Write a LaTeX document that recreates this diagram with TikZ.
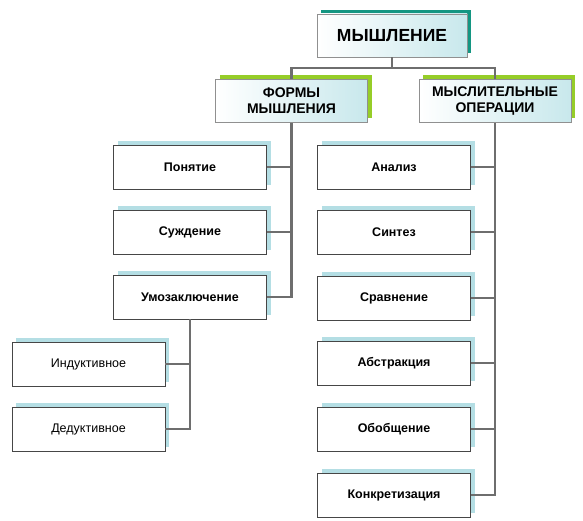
\documentclass[tikz,border=0pt]{standalone}
\usepackage{fontspec}
\setmainfont{Liberation Sans}
\usetikzlibrary{shadows}
\definecolor{conncol}{RGB}{110,110,110}
\definecolor{teal1}{RGB}{20,150,130}
\definecolor{green1}{RGB}{150,205,40}
\definecolor{lblue}{RGB}{180,222,228}
\definecolor{grad}{RGB}{200,232,236}
\definecolor{bord}{RGB}{70,70,70}
\tikzset{
  conn/.style={draw=conncol,line width=2.2pt},
  smallbox/.style={draw=bord,line width=0.8pt,fill=white,minimum width=153pt,minimum height=44pt,inner sep=0pt,
    general shadow={fill=lblue,shadow xshift=4pt,shadow yshift=4pt},font=\bfseries\fontsize{12.5}{14}\selectfont},
  regbox/.style={smallbox,font=\fontsize{12.5}{14}\selectfont},
  headbox/.style={draw=bord!60,line width=0.6pt,left color=white,right color=grad,minimum width=152pt,minimum height=43pt,inner sep=0pt,
    general shadow={fill=green1,shadow xshift=4pt,shadow yshift=4pt},align=center,font=\bfseries\fontsize{14}{16}\selectfont},
  titlebox/.style={headbox,general shadow={fill=teal1,shadow xshift=4pt,shadow yshift=4pt},minimum width=150pt,font=\bfseries\fontsize{17.5}{19}\selectfont}
}
\begin{document}
\begin{tikzpicture}[x=1pt,y=-1pt]
\useasboundingbox (0,0) rectangle (583,521);
\node[titlebox] (top) at (392,35.5) {МЫШЛЕНИЕ};
\node[headbox] (forms) at (291.5,101) {ФОРМЫ\\МЫШЛЕНИЯ};
\node[headbox] (ops) at (495,101) {МЫСЛИТЕЛЬНЫЕ\\ОПЕРАЦИИ};
\node[smallbox] (pon) at (190,167) {Понятие};
\node[smallbox] (sud) at (190,232) {Суждение};
\node[smallbox] (um) at (190,297) {Умозаключение};
\node[regbox] (ind) at (88.5,364) {Индуктивное};
\node[regbox] (ded) at (88.5,429) {Дедуктивное};
\node[smallbox] (an) at (394,167) {Анализ};
\node[smallbox] (sin) at (394,232) {Синтез};
\node[smallbox] (srav) at (394,298) {Сравнение};
\node[smallbox] (abs) at (394,363) {Абстракция};
\node[smallbox] (obo) at (394,429) {Обобщение};
\node[smallbox] (konk) at (394,495) {Конкретизация};
\coordinate (bus) at (0,68);
\draw[conn] (top.south) -- (top.south |- bus);
\draw[conn] (forms.north) -- (forms.north |- bus) -- (ops.north |- bus) -- (ops.north);
\draw[conn] (forms.south) |- (um.east);
\draw[conn] (pon.east) -- (pon.east -| forms.south);
\draw[conn] (sud.east) -- (sud.east -| forms.south);
\draw[conn] (ops.south) |- (konk.east);
\draw[conn] (an.east) -- (an.east -| ops.south);
\draw[conn] (sin.east) -- (sin.east -| ops.south);
\draw[conn] (srav.east) -- (srav.east -| ops.south);
\draw[conn] (abs.east) -- (abs.east -| ops.south);
\draw[conn] (obo.east) -- (obo.east -| ops.south);
\draw[conn] (um.south) |- (ded.east);
\draw[conn] (ind.east) -- (ind.east -| um.south);
\end{tikzpicture}
\end{document}
